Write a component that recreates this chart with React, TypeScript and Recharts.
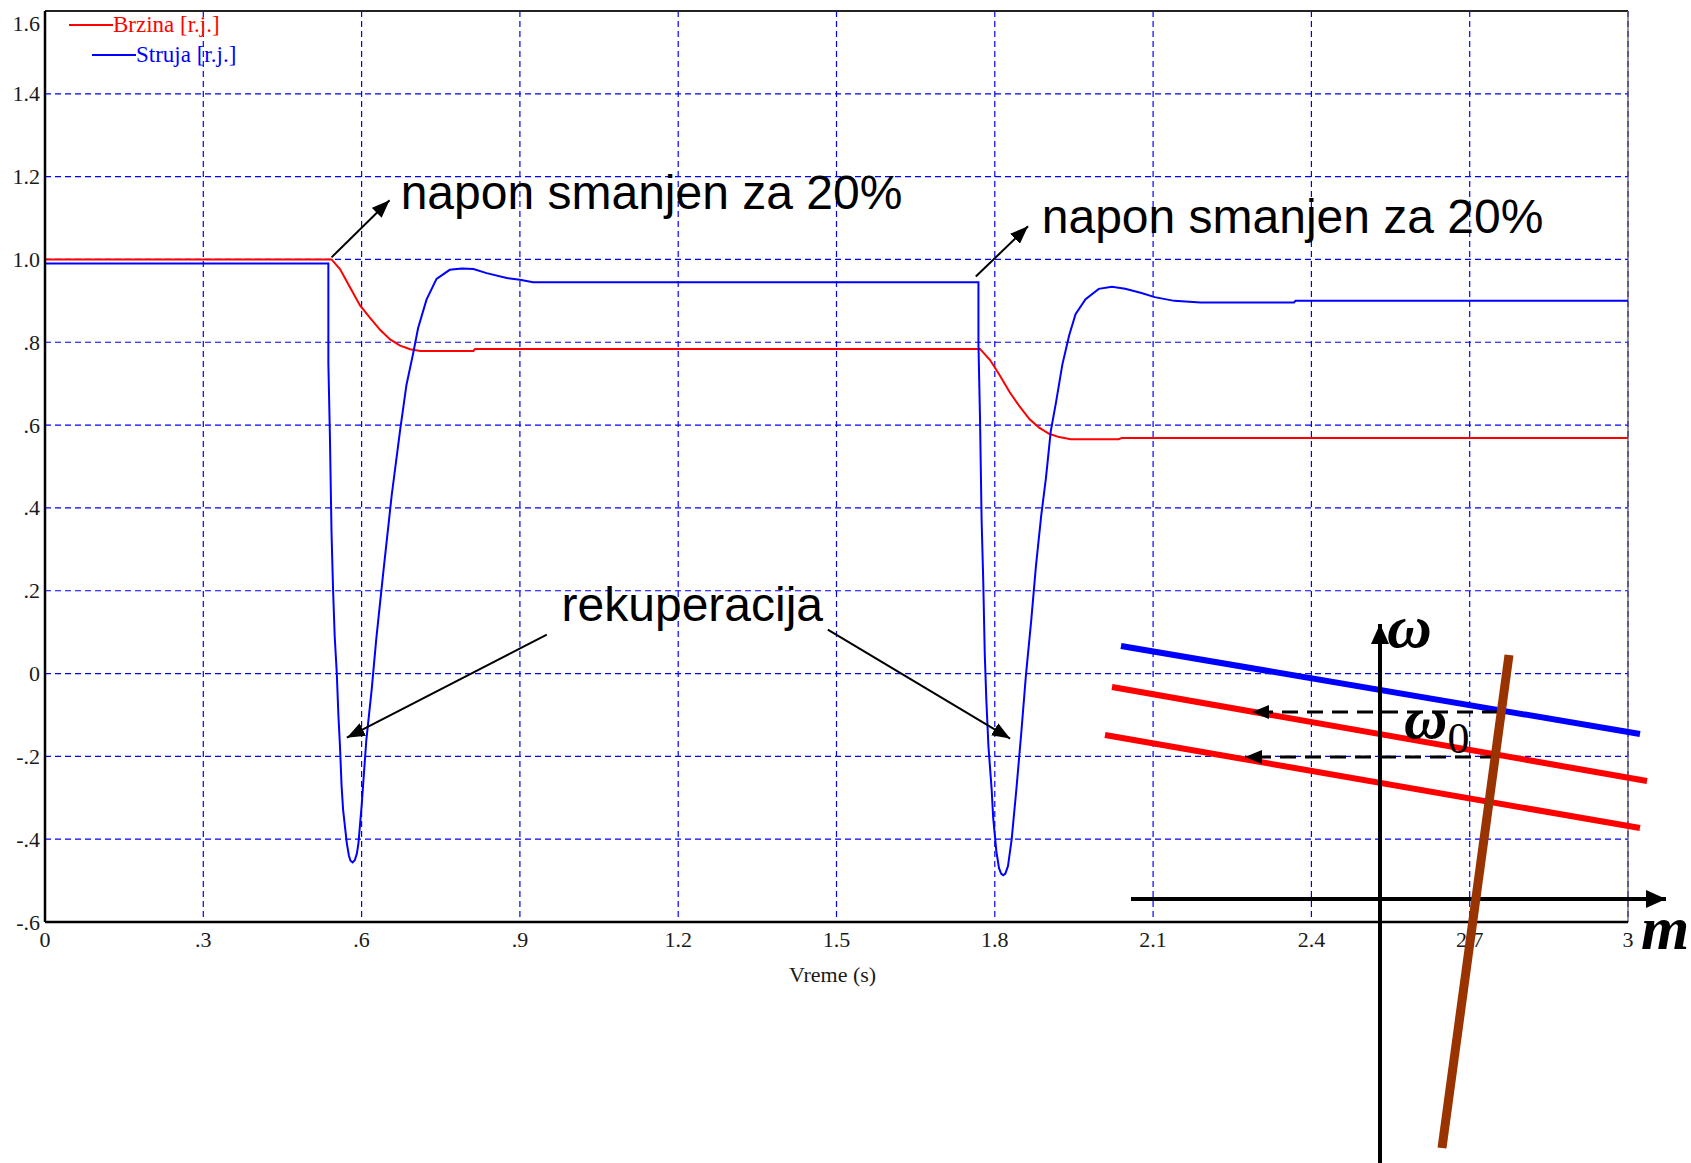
import React from "react";
import { LineChart, Line, XAxis, YAxis, CartesianGrid, ReferenceLine, ReferenceDot, Legend } from "recharts";

const SERIF = "'Liberation Serif', 'Times New Roman', serif";
const SANS = "'Liberation Sans', Arial, sans-serif";

// axes
const timeTicks = [0, 0.3, 0.6, 0.9, 1.2, 1.5, 1.8, 2.1, 2.4, 2.7, 3];
const timeTickLabels = ["0", ".3", ".6", ".9", "1.2", "1.5", "1.8", "2.1", "2.4", "2.7", "3"];
const valueTicks = [-0.6, -0.4, -0.2, 0, 0.2, 0.4, 0.6, 0.8, 1.0, 1.2, 1.4, 1.6];
const valueTickLabels = ["-.6", "-.4", "-.2", "0", ".2", ".4", ".6", ".8", "1.0", "1.2", "1.4", "1.6"];

const seriesNames = ["Brzina [r.j.]", "Struja [r.j.]"];
const seriesColors = ["#ff0000", "#0000ff"];

// Brzina (speed)
const brzinaT = [0, 0.543, 0.559, 0.578, 0.597, 0.616, 0.635, 0.654, 0.673, 0.692, 0.711, 0.812, 0.815,
  1.772, 1.791, 1.809, 1.828, 1.847, 1.866, 1.884, 1.903, 1.922, 1.944, 2.034, 2.041, 3.0];
const brzinaV = [1.0, 1.0, 0.977, 0.933, 0.889, 0.859, 0.83, 0.807, 0.792, 0.783, 0.779, 0.779, 0.784,
  0.784, 0.757, 0.721, 0.68, 0.645, 0.614, 0.594, 0.579, 0.571, 0.566, 0.566, 0.569, 0.569];

// Struja (current)
const strujaT = [0, 0.537, 0.537, 0.54, 0.543, 0.546, 0.549, 0.553, 0.556, 0.559, 0.562, 0.565, 0.572,
  0.576, 0.579, 0.583, 0.587, 0.591, 0.594, 0.6, 0.609, 0.619, 0.628, 0.641, 0.657, 0.673, 0.685, 0.698,
  0.707, 0.723, 0.742, 0.767, 0.79, 0.812, 0.837, 0.875, 0.9, 0.925,
  1.769, 1.769, 1.772, 1.775, 1.778, 1.781, 1.784, 1.788, 1.794, 1.797, 1.803, 1.808, 1.812, 1.816, 1.82,
  1.825, 1.832, 1.841, 1.85, 1.859, 1.869, 1.878, 1.888, 1.897, 1.906, 1.916, 1.928, 1.941, 1.953, 1.972,
  1.997, 2.022, 2.047, 2.078, 2.103, 2.14, 2.19, 2.367, 2.37, 3.0];
const strujaV = [0.99, 0.99, 0.75, 0.57, 0.34, 0.2, 0.09, 0.0, -0.1, -0.175, -0.27, -0.33, -0.41,
  -0.44, -0.452, -0.456, -0.451, -0.435, -0.41, -0.32, -0.16, -0.04, 0.086, 0.243, 0.43, 0.588, 0.697, 0.775,
  0.834, 0.903, 0.953, 0.975, 0.978, 0.977, 0.967, 0.955, 0.951, 0.945,
  0.945, 0.797, 0.614, 0.371, 0.229, 0.046, -0.065, -0.177, -0.279, -0.349, -0.43, -0.47, -0.483, -0.487, -0.483,
  -0.465, -0.4, -0.278, -0.146, -0.004, 0.128, 0.26, 0.382, 0.473, 0.585, 0.655, 0.746, 0.817, 0.868, 0.904,
  0.929, 0.934, 0.929, 0.919, 0.909, 0.9, 0.896, 0.896, 0.9, 0.9];

// annotation arrows (from -> to), in chart units
const noteArrows = [
  [{ t: 0.543, v: 1.005 }, { t: 0.653, v: 1.143 }],
  [{ t: 1.764, v: 0.959 }, { t: 1.863, v: 1.08 }],
  [{ t: 0.951, v: 0.094 }, { t: 0.572, v: -0.155 }],
  [{ t: 1.4835, v: 0.106 }, { t: 1.829, v: -0.157 }],
];
const notes = [
  { text: "napon smanjen za 20%", t: 0.674, v: 1.121 },
  { text: "napon smanjen za 20%", t: 1.889, v: 1.063 },
  { text: "rekuperacija", t: 0.979, v: 0.128 },
];

// inset sketch: torque-speed characteristics (m, w)
const natural = [{ m: -2.59, w: 2.53 }, { m: 2.6, w: 1.65 }];
const reduced1 = [{ m: -2.68, w: 2.12 }, { m: 2.67, w: 1.18 }];
const reduced2 = [{ m: -2.75, w: 1.64 }, { m: 2.6, w: 0.71 }];
const load = [{ m: 1.29, w: 2.44 }, { m: 0.62, w: -2.49 }];
const omegaAxis = [{ m: 0, w: -2.64 }, { m: 0, w: 2.75 }];
const torqueAxis = [{ m: -2.49, w: 0 }, { m: 2.86, w: 0 }];
const jump1 = [{ m: 1.18, w: 1.87 }, { m: -1.28, w: 1.87 }];
const jump2 = [{ m: 1.16, w: 1.42 }, { m: -1.35, w: 1.42 }];

const toPoints = (ts: number[], vs: number[]) => ts.map((t, i) => ({ t, v: vs[i] }));
const brzina = toPoints(brzinaT, brzinaV);
const struja = toPoints(strujaT, strujaV);

const labelFor = (ticks: number[], labels: string[], v: number) => {
  const i = ticks.findIndex((x) => Math.abs(x - v) < 1e-9);
  return i >= 0 ? labels[i] : String(v);
};

function YTick(props: any) {
  const { x, y, payload } = props;
  const shift = Math.abs(payload.value - 1.6) < 1e-9 ? 12 : 0;
  return (
    <text x={x} y={y + shift} textAnchor="end" dominantBaseline="central" fontFamily={SERIF} fontSize={22} fill="#1a1a1a">
      {labelFor(valueTicks, valueTickLabels, payload.value)}
    </text>
  );
}

function XTitle(props: any) {
  const vb = props.viewBox || {};
  return (
    <text x={vb.x + vb.width / 2 - 4} y={vb.y + 52} textAnchor="middle" dominantBaseline="central" fontFamily={SERIF} fontSize={22} fill="#1a1a1a">
      Vreme (s)
    </text>
  );
}

function LegendBox() {
  const indent = [69, 92];
  return (
    <div style={{ position: "relative", width: 260, height: 72, fontFamily: SERIF, fontSize: 23 }}>
      {seriesNames.map((name, i) => (
        <div key={name} style={{ position: "absolute", left: indent[i], top: 13 + i * 30, height: 24, display: "flex", alignItems: "center", whiteSpace: "nowrap", color: seriesColors[i] }}>
          <span style={{ display: "inline-block", width: 44, height: 2, background: seriesColors[i] }} />
          <span style={{ lineHeight: "24px" }}>{name}</span>
        </div>
      ))}
    </div>
  );
}

export default function App() {
  return (
    <div style={{ position: "absolute", left: 0, top: 0, width: 1691, height: 1163, background: "#fff", overflow: "hidden" }}>
      <svg width={0} height={0} style={{ position: "absolute" }}>
        <defs>
          <marker id="headNote" markerUnits="userSpaceOnUse" markerWidth={18} markerHeight={14} refX={18} refY={7} orient="auto">
            <path d="M0,0 L18,7 L0,14 z" fill="#000" />
          </marker>
          <marker id="headAxis" markerUnits="userSpaceOnUse" markerWidth={20} markerHeight={18} refX={20} refY={9} orient="auto">
            <path d="M0,0 L20,9 L0,18 z" fill="#000" />
          </marker>
          <marker id="headDash" markerUnits="userSpaceOnUse" markerWidth={17} markerHeight={14} refX={17} refY={7} orient="auto">
            <path d="M0,0 L17,7 L0,14 z" fill="#000" />
          </marker>
        </defs>
      </svg>

      <div style={{ position: "absolute", left: 0, top: 0 }}>
        <LineChart width={1691} height={1163} margin={{ top: 11, right: 63, bottom: 161, left: 0 }}>
          <CartesianGrid stroke="#0000ff" strokeWidth={1.2} strokeDasharray="6 4" />
          <XAxis
            type="number"
            dataKey="t"
            domain={[0, 3]}
            ticks={timeTicks}
            allowDataOverflow
            height={80}
            tickLine={false}
            tickSize={0}
            tickMargin={9}
            axisLine={{ stroke: "#000", strokeWidth: 2.5 }}
            tick={{ fontFamily: SERIF, fontSize: 22, fill: "#1a1a1a" }}
            tickFormatter={(v: number) => labelFor(timeTicks, timeTickLabels, v)}
            label={<XTitle />}
          />
          <YAxis
            type="number"
            domain={[-0.6, 1.6]}
            ticks={valueTicks}
            allowDataOverflow
            width={45}
            tickLine={false}
            tickSize={0}
            tickMargin={5}
            axisLine={{ stroke: "#000", strokeWidth: 2.5 }}
            tick={<YTick />}
          />
          <ReferenceLine y={1.6} stroke="#222" strokeWidth={2} />
          <ReferenceLine x={3} stroke="#555" strokeWidth={1.2} />
          <Legend layout="vertical" verticalAlign="middle" align="center" content={() => <LegendBox />} wrapperStyle={{ left: 0, top: 0, width: 260, height: 72 }} />
          <Line data={brzina} dataKey="v" name={seriesNames[0]} stroke={seriesColors[0]} strokeWidth={2} type="linear" dot={false} activeDot={false} isAnimationActive={false} />
          <Line data={struja} dataKey="v" name={seriesNames[1]} stroke={seriesColors[1]} strokeWidth={2} type="linear" dot={false} activeDot={false} isAnimationActive={false} />
          {noteArrows.map((seg, i) => (
            <Line key={"arrow" + i} data={seg} dataKey="v" stroke="#000" strokeWidth={2} type="linear" dot={false} activeDot={false} legendType="none" markerEnd="url(#headNote)" isAnimationActive={false} />
          ))}
          {notes.map((n, i) => (
            <ReferenceDot
              key={"note" + i}
              x={n.t}
              y={n.v}
              r={0}
              ifOverflow="visible"
              shape={(p: any) => (
                <text x={p.cx} y={p.cy} fontFamily={SANS} fontSize={48} fill="#000">{n.text}</text>
              )}
            />
          ))}
        </LineChart>
      </div>

      <div style={{ position: "absolute", left: 1080, top: 540 }}>
        <LineChart width={611} height={623} margin={{ top: 0, right: 0, bottom: 0, left: 0 }}>
          <XAxis type="number" dataKey="m" domain={[-3, 3.11]} hide allowDataOverflow />
          <YAxis type="number" domain={[-2.64, 3.59]} hide allowDataOverflow />
          <Line data={natural} dataKey="w" stroke="#0000ff" strokeWidth={6} type="linear" dot={false} activeDot={false} isAnimationActive={false} />
          <Line data={reduced1} dataKey="w" stroke="#ff0000" strokeWidth={6} type="linear" dot={false} activeDot={false} isAnimationActive={false} />
          <Line data={reduced2} dataKey="w" stroke="#ff0000" strokeWidth={6} type="linear" dot={false} activeDot={false} isAnimationActive={false} />
          <Line data={omegaAxis} dataKey="w" stroke="#000" strokeWidth={4} type="linear" dot={false} activeDot={false} markerEnd="url(#headAxis)" isAnimationActive={false} />
          <Line data={torqueAxis} dataKey="w" stroke="#000" strokeWidth={4} type="linear" dot={false} activeDot={false} markerEnd="url(#headAxis)" isAnimationActive={false} />
          <Line data={jump1} dataKey="w" stroke="#000" strokeWidth={3} strokeDasharray="16 9" type="linear" dot={false} activeDot={false} markerEnd="url(#headDash)" isAnimationActive={false} />
          <Line data={jump2} dataKey="w" stroke="#000" strokeWidth={3} strokeDasharray="16 9" type="linear" dot={false} activeDot={false} markerEnd="url(#headDash)" isAnimationActive={false} />
          <Line data={load} dataKey="w" stroke="#993300" strokeWidth={9} type="linear" dot={false} activeDot={false} isAnimationActive={false} />
          <ReferenceDot x={0.07} y={2.52} r={0} ifOverflow="visible" shape={(p: any) => (
            <text x={p.cx} y={p.cy} fontFamily={SERIF} fontStyle="italic" fontWeight="bold" fontSize={62} fill="#000">ω</text>
          )} />
          <ReferenceDot x={2.61} y={-0.5} r={0} ifOverflow="visible" shape={(p: any) => (
            <text x={p.cx} y={p.cy} fontFamily={SERIF} fontStyle="italic" fontWeight="bold" fontSize={62} fill="#000">m</text>
          )} />
          <ReferenceDot x={0.24} y={1.61} r={0} ifOverflow="visible" shape={(p: any) => (
            <text x={p.cx} y={p.cy} fontFamily={SERIF} fontStyle="italic" fontWeight="bold" fontSize={60} fill="#000">
              ω<tspan fontStyle="normal" fontWeight="normal" fontSize={44} dy={15}>0</tspan>
            </text>
          )} />
        </LineChart>
      </div>
    </div>
  );
}
